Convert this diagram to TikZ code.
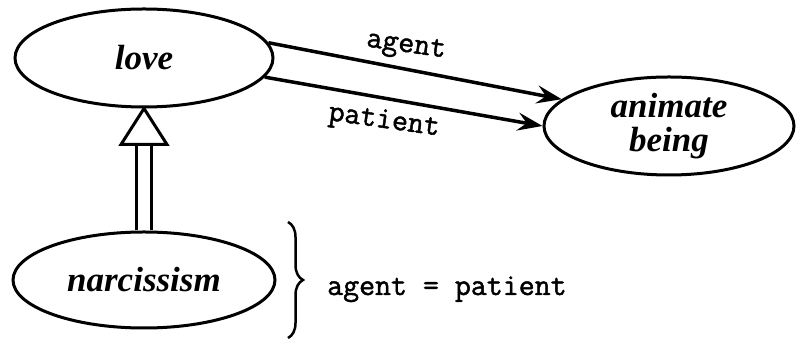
\documentclass[tikz,border=0pt]{standalone}
\usepackage{fontspec}
\setmainfont{Liberation Serif}
\newfontfamily\relfont{Latin Modern Mono}[FakeBold=1.5]
\usetikzlibrary{arrows.meta,shapes.geometric,decorations.pathreplacing}
\begin{document}
\begin{tikzpicture}[x=1pt,y=1pt,
  concept/.style={ellipse,draw,line width=3pt,inner sep=0pt,align=center,
    font=\fontsize{35}{34}\selectfont\bfseries\itshape},
  rel/.style={line width=3.5pt,-{Stealth[length=25pt,width=18pt,inset=9pt]}},
  rellabel/.style={font=\fontsize{31}{31}\selectfont\relfont,inner sep=0pt},
  isa/.style={line width=3pt}]
\fill[white] (0,0) rectangle (796,339);
\useasboundingbox (0,0) rectangle (796,339);
\node[concept,minimum width=258pt,minimum height=98pt] (love) at (144,281) {love};
\node[concept,minimum width=250pt,minimum height=98pt] (animate) at (669,213) {animate\\being};
\node[concept,minimum width=262pt,minimum height=96pt] (narc) at (144,59) {narcissism};
\draw[rel] (love.7) -- (animate.166);
\draw[rel] (love.-9) -- (animate.west);
\node[rellabel,rotate=-8] (lagent) at (406,292) {agent};
\node[rellabel,rotate=-8] (lpatient) at (384,217) {patient};
\coordinate (tb) at ([yshift=-36pt]love.south);
\draw[isa,double,double distance=12pt] (narc.north) -- (tb);
\draw[isa,fill=white,line join=miter] (love.south) -- ([xshift=-23pt]tb) -- ([xshift=23pt]tb) -- cycle;
\coordinate (btop) at (288,117);
\coordinate (bbot) at (288,1);
\draw[line width=2.5pt,decorate,decoration={brace,amplitude=15pt}] (btop) -- (bbot);
\node[rellabel,anchor=base west] (eq) at (327,44) {agent = patient};
\end{tikzpicture}
\end{document}
